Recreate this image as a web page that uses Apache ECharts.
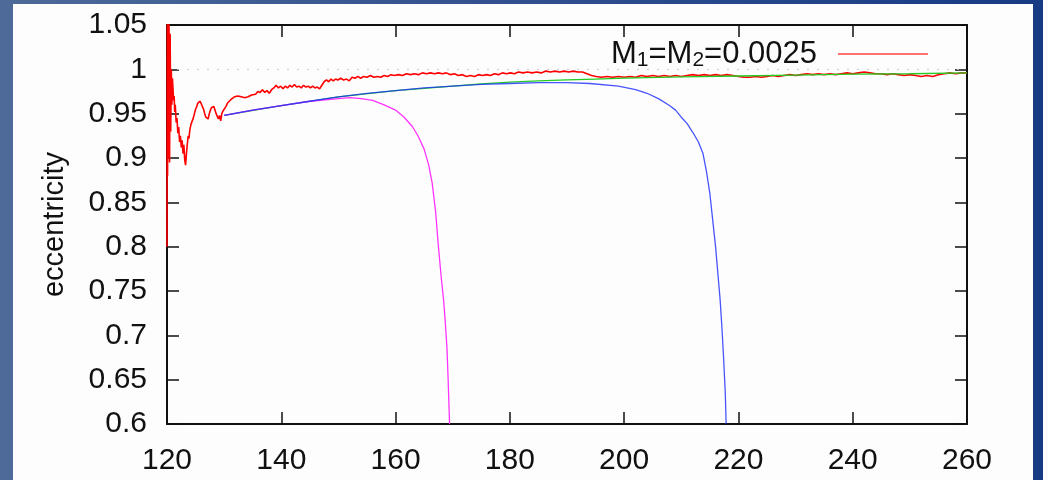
<!DOCTYPE html>
<html>
<head>
<meta charset="utf-8">
<script src="https://cdn.jsdelivr.net/npm/echarts@6/dist/echarts.min.js"></script>
<style>
  html, body { margin: 0; padding: 0; }
  body { width: 1043px; height: 480px; overflow: hidden; position: relative;
         background: linear-gradient(90deg, #4d6a98 0%, #33528f 45%, #173a84 100%); }
  #panel { position: absolute; left: 13px; top: 4px; width: 1020px; height: 476px; background: #fdfdfd; }
  #chart { position: absolute; left: 0; top: 0; width: 1043px; height: 480px; }
</style>
</head>
<body>
<div id="panel"></div>
<div id="chart"></div>
<script>
// ---- axis ticks ----
const xTicks = [120, 140, 160, 180, 200, 220, 240, 260];
const yTicks = [0.6, 0.65, 0.7, 0.75, 0.8, 0.85, 0.9, 0.95, 1, 1.05];

// ---- legend / names ----
const redName = 'M1=M2=0.0025';
const yName = 'eccentricity';

// ---- red (noisy) series ----
const redX = [120.00,120.05,120.10,120.15,120.25,120.35,120.45,120.55,120.65,120.75,120.85,120.95,121.05,121.15,121.25,121.35,121.45,121.6,121.75,121.9,122.05,122.2,122.35,122.5,122.65,122.8,122.95,123.1,123.25,123.4,123.55,123.7,123.85,124.0,124.2,124.4,124.6,124.8,125.0,125.2,125.4,125.6,125.8,126.0,126.2,126.4,126.6,126.8,127.0,127.2,127.4,127.6,127.8,128.0,128.2,128.4,128.6,128.8,129.0,129.2,129.4,129.6,129.8,130.0,130.3,130.6,130.9,131.2,131.5,131.8,132.1,132.4,132.7,133.0,133.3,133.6,133.9,134.2,134.5,134.8,135.1,135.5,135.9,136.3,136.7,137.1,137.5,137.9,138.3,138.7,139.1,139.5,139.9,140.3,140.7,141.1,141.5,141.9,142.3,142.7,143.1,143.5,143.9,144.3,144.7,145.1,145.5,145.9,146.3,146.7,147.1,147.5,147.9,148.3,148.7,149.1,149.5,149.9,150.4,150.9,151.4,151.9,152.4,152.9,153.4,153.9,154.4,155.0,155.6,156.2,156.8,157.4,158.0,158.6,159.2,159.8,160.5,161.2,161.9,162.6,163.3,164.0,164.7,165.4,166.1,166.8,167.5,168.2,168.9,169.6,170.3,171.0,171.7,172.4,173.1,173.8,174.5,175.2,175.9,176.6,177.3,178.0,178.7,179.4,180.1,180.8,181.5,182.3,183.1,183.9,184.7,185.5,186.3,187.1,187.9,188.7,189.5,190.3,191.1,191.9,192.7,193.5,194.3,195.1,196,197,198,199,200,201,202,203,204,205,206,207,208,209,210,211,212,213,214,215,216,217,218,219,220,221,222,223,224,225,226,227,228,229,230,231,232,233,234,235,236,237,238,239,240,241,242,243,244,245,246,247,248,249,250,251,252,253,254,255,256,257,258,259,260];
const redY = [0.800,1.060,0.880,1.060,0.900,1.055,0.895,1.040,0.930,1.000,0.960,0.990,0.978,0.965,0.970,0.952,0.960,0.940,0.945,0.928,0.935,0.918,0.925,0.912,0.920,0.905,0.915,0.898,0.892,0.905,0.915,0.925,0.922,0.932,0.938,0.936,0.945,0.950,0.955,0.958,0.962,0.960,0.964,0.962,0.958,0.955,0.950,0.946,0.948,0.944,0.950,0.954,0.957,0.955,0.958,0.954,0.950,0.947,0.944,0.948,0.942,0.950,0.953,0.955,0.958,0.962,0.964,0.966,0.967,0.969,0.971,0.970,0.972,0.969,0.967,0.968,0.966,0.969,0.968,0.971,0.969,0.972,0.975,0.974,0.977,0.974,0.976,0.973,0.977,0.979,0.982,0.979,0.981,0.978,0.981,0.979,0.982,0.980,0.983,0.980,0.981,0.979,0.982,0.980,0.981,0.979,0.981,0.979,0.980,0.978,0.982,0.986,0.988,0.986,0.989,0.987,0.989,0.988,0.990,0.988,0.989,0.987,0.991,0.990,0.992,0.990,0.992,0.991,0.993,0.991,0.992,0.991,0.993,0.992,0.994,0.993,0.994,0.993,0.995,0.994,0.995,0.994,0.996,0.995,0.996,0.995,0.996,0.995,0.996,0.994,0.995,0.993,0.994,0.992,0.993,0.992,0.994,0.993,0.994,0.993,0.995,0.994,0.996,0.995,0.996,0.995,0.997,0.996,0.997,0.996,0.997,0.996,0.998,0.997,0.998,0.997,0.998,0.997,0.998,0.997,0.997,0.995,0.993,0.992,0.991,0.992,0.991,0.992,0.991,0.992,0.991,0.993,0.992,0.993,0.992,0.993,0.992,0.993,0.992,0.993,0.994,0.993,0.994,0.993,0.994,0.993,0.994,0.993,0.992,0.991,0.991,0.992,0.991,0.992,0.993,0.992,0.993,0.994,0.993,0.994,0.995,0.994,0.995,0.994,0.995,0.994,0.995,0.996,0.995,0.996,0.997,0.996,0.995,0.995,0.994,0.995,0.994,0.993,0.994,0.993,0.992,0.993,0.992,0.994,0.995,0.996,0.995,0.996,0.996];

// ---- green series ----
const greenX = [130,140,150,160,170,175,180,185,190,195,200,210,220,230,240,250,260];
const greenY = [0.948,0.959,0.969,0.976,0.981,0.9835,0.9855,0.987,0.988,0.989,0.990,0.9915,0.9925,0.9935,0.9945,0.995,0.996];

// ---- blue series ----
const blueX = [130,135,140,145,150,155,160,165,170,175,180,185,190,194,199,202,204,206,208,209,210,211,212,213,213.8,214.4,215,215.5,216,216.4,216.8,217.1,217.4,217.7,217.85];
const blueY = [0.948,0.954,0.959,0.964,0.969,0.973,0.976,0.979,0.981,0.983,0.984,0.985,0.985,0.984,0.981,0.977,0.973,0.967,0.959,0.954,0.946,0.939,0.929,0.918,0.905,0.885,0.860,0.830,0.800,0.770,0.740,0.710,0.675,0.635,0.600];

// ---- magenta series ----
const magX = [130,135,140,145,150,152,154,156,158,160,161.5,163,164,165,165.8,166.4,167,167.5,168,168.4,168.7,169,169.2,169.35,169.45];
const magY = [0.948,0.954,0.959,0.964,0.967,0.968,0.967,0.965,0.960,0.954,0.946,0.935,0.924,0.910,0.892,0.872,0.840,0.800,0.765,0.740,0.715,0.685,0.650,0.620,0.600];

// ---- reference line e = 1 ----
const refX = [120, 260];
const refY = [1, 1];

const zip = (xs, ys) => xs.map((x, i) => [x, ys[i]]);
const fmtY = v => String(parseFloat(Number(v).toFixed(2)));
const FONT = 'Liberation Sans';

const axisLine = { show: true, lineStyle: { color: '#111', width: 2 } };
const tick = { show: true, inside: true, length: 12, lineStyle: { color: '#111', width: 1.5 } };

const chart = echarts.init(document.getElementById('chart'), null, { renderer: 'canvas' });
chart.setOption({
  animation: false,
  backgroundColor: 'transparent',
  textStyle: { fontFamily: FONT },
  grid: { left: 167, right: 76, top: 25, bottom: 56, containLabel: false },
  legend: {
    data: [redName],
    right: 115, top: 36,
    padding: 0,
    align: 'right',
    icon: 'rect',
    itemWidth: 90, itemHeight: 2,
    itemStyle: { color: '#ff7070' },
    formatter: () => '{m|M}{s|1}{m|=M}{s|2}{m|=0.0025}{g| }',
    textStyle: {
      rich: {
        m: { fontSize: 31, fontFamily: FONT, color: '#111', lineHeight: 34 },
        s: { fontSize: 21, fontFamily: FONT, color: '#111', lineHeight: 34, verticalAlign: 'bottom', padding: [14, 0, 0, 0] },
        g: { width: 16, fontSize: 30 }
      }
    }
  },
  xAxis: [
    { type: 'value', min: xTicks[0], max: xTicks[xTicks.length - 1], interval: 20,
      axisLine, axisTick: tick, splitLine: { show: false },
      axisLabel: { fontSize: 30, fontFamily: FONT, color: '#111', margin: 22 } },
    { type: 'value', position: 'top', min: xTicks[0], max: xTicks[xTicks.length - 1], interval: 20,
      axisLine, axisTick: tick, splitLine: { show: false }, axisLabel: { show: false } }
  ],
  yAxis: [
    { type: 'value', min: yTicks[0], max: yTicks[yTicks.length - 1], interval: 0.05,
      name: yName, nameLocation: 'middle', nameGap: 98, nameRotate: 90,
      nameTextStyle: { fontSize: 29, fontFamily: FONT, color: '#111' },
      axisLine, axisTick: tick, splitLine: { show: false },
      axisLabel: { fontSize: 30, fontFamily: FONT, color: '#111', margin: 20, formatter: fmtY } },
    { type: 'value', position: 'right', min: yTicks[0], max: yTicks[yTicks.length - 1], interval: 0.05,
      axisLine, axisTick: tick, splitLine: { show: false }, axisLabel: { show: false } }
  ],
  series: [
    { name: 'ref', type: 'line', data: zip(refX, refY), symbol: 'none', silent: true,
      lineStyle: { color: '#c8c8c8', width: 1, type: [2, 8] } },
    { name: redName, type: 'line', data: zip(redX, redY), symbol: 'none', clip: true,
      itemStyle: { color: '#ff0000' }, lineStyle: { color: '#ff0000', width: 1.6 } },
    { name: 'green', type: 'line', data: zip(greenX, greenY), symbol: 'none', clip: true,
      lineStyle: { color: '#22cc22', width: 1.3 } },
    { name: 'magenta', type: 'line', data: zip(magX, magY), symbol: 'none', clip: true,
      lineStyle: { color: '#ff33ff', width: 1.3 } },
    { name: 'blue', type: 'line', data: zip(blueX, blueY), symbol: 'none', clip: true,
      lineStyle: { color: '#1a2aff', width: 1.3, opacity: 0.8 } }
  ]
});
</script>
</body>
</html>
